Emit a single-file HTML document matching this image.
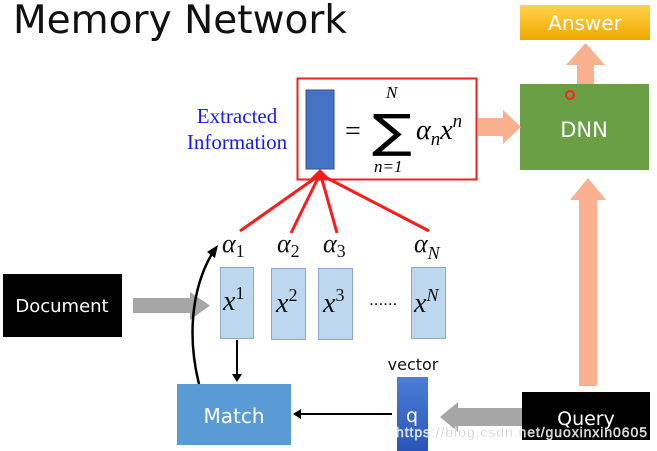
<!DOCTYPE html>
<html><head><meta charset="utf-8"><style>
html,body{margin:0;padding:0;background:#fff;}
svg{display:block;}
</style></head><body>
<svg width="657" height="451" viewBox="0 0 657 451" xmlns="http://www.w3.org/2000/svg">
<defs>
<linearGradient id="ans" x1="0" y1="0" x2="0" y2="1"><stop offset="0" stop-color="#ffd24a"/><stop offset="1" stop-color="#f0a800"/></linearGradient>
<linearGradient id="q" x1="0" y1="0" x2="0" y2="1"><stop offset="0" stop-color="#4a7fd6"/><stop offset="1" stop-color="#2a55b8"/></linearGradient>
</defs>
<text x="13" y="33" font-family="DejaVu Sans, Liberation Sans, sans-serif" font-size="39" fill="#111" textLength="334">Memory Network</text>

<!-- Answer -->
<rect x="520" y="5" width="130" height="35" fill="url(#ans)"/>
<text x="585" y="30" text-anchor="middle" font-family="DejaVu Sans, Liberation Sans, sans-serif" font-size="20" fill="#fff">Answer</text>
<polygon points="577,84 594,84 594,65 605,65 585.5,43 566,65 577,65" fill="#f8b08e"/>
<!-- DNN -->
<rect x="520" y="84" width="129" height="86" fill="#6a9f45"/>
<text x="584" y="137" text-anchor="middle" font-family="DejaVu Sans, Liberation Sans, sans-serif" font-size="21" fill="#fff">DNN</text>
<circle cx="570" cy="95" r="4" fill="none" stroke="#ff2020" stroke-width="2"/>
<polygon points="478,118 503,118 503,110 521,127 503,144 503,136 478,136" fill="#f8b08e"/>
<polygon points="579,386 597,386 597,200 606,200 588,178 570,200 579,200" fill="#f8b08e"/>

<!-- red box -->
<rect x="297.5" y="78.5" width="179" height="101" fill="none" stroke="#ee2222" stroke-width="2"/>
<rect x="306" y="90" width="28" height="79" fill="#4472c4" stroke="#2f528f" stroke-width="1"/>
<text x="345" y="140" font-family="Liberation Serif, serif" font-size="28">=</text>
<text x="372" y="147" font-family="DejaVu Sans, Liberation Sans, sans-serif" font-size="46" textLength="40" lengthAdjust="spacingAndGlyphs">∑</text>
<text x="386" y="98" font-family="Liberation Serif, serif" font-style="italic" font-size="17">N</text>
<text x="374" y="172" font-family="Liberation Serif, serif" font-style="italic" font-size="17">n=1</text>
<text x="416" y="139" font-family="Liberation Serif, serif" font-style="italic" font-size="28">α<tspan font-size="19" dy="6">n</tspan><tspan dy="-6">x</tspan><tspan font-size="19" dy="-12">n</tspan></text>
<text x="237" y="123" text-anchor="middle" font-family="Liberation Serif, serif" font-size="21" fill="#1a1aee">Extracted</text>
<text x="237" y="149" text-anchor="middle" font-family="Liberation Serif, serif" font-size="21" fill="#1a1aee">Information</text>

<g stroke="#ff1a1a" stroke-width="3">
<line x1="240" y1="231" x2="318" y2="176"/>
<line x1="291" y1="233" x2="319" y2="176"/>
<line x1="337" y1="233" x2="321" y2="176"/>
<line x1="429" y1="231" x2="323" y2="176"/>
</g>
<polygon points="309,180 320,169 331,180" fill="#ff1a1a"/>

<g font-family="Liberation Serif, serif" font-style="italic" font-size="26" fill="#111">
<text x="222" y="252">α<tspan font-size="18" dy="5" font-style="normal">1</tspan></text>
<text x="277" y="252">α<tspan font-size="18" dy="5" font-style="normal">2</tspan></text>
<text x="323" y="252">α<tspan font-size="18" dy="5" font-style="normal">3</tspan></text>
<text x="414" y="252">α<tspan font-size="18" dy="7">N</tspan></text>
</g>

<rect x="3" y="274" width="119" height="63" fill="#000"/>
<text x="62" y="312" text-anchor="middle" font-family="DejaVu Sans, Liberation Sans, sans-serif" font-size="18" fill="#fff">Document</text>
<polygon points="133,298 190,298 190,292 210,305.5 190,320 190,313 133,313" fill="#a6a6a6"/>

<g fill="#bdd7ee" stroke="#8eaacb" stroke-width="1">
<rect x="220.5" y="267.5" width="33" height="71"/>
<rect x="271.5" y="268.5" width="34" height="71"/>
<rect x="318.5" y="268.5" width="34" height="71"/>
<rect x="411.5" y="267.5" width="34" height="71"/>
</g>
<g font-family="Liberation Serif, serif" font-style="italic" font-size="28" fill="#111">
<text x="223" y="310">x<tspan font-size="18" dy="-11" font-style="normal">1</tspan></text>
<text x="276" y="312">x<tspan font-size="18" dy="-11" font-style="normal">2</tspan></text>
<text x="323" y="312">x<tspan font-size="18" dy="-11" font-style="normal">3</tspan></text>
<text x="414" y="312">x<tspan font-size="18" dy="-11">N</tspan></text>
</g>
<text x="369" y="305" font-family="Liberation Sans, sans-serif" font-size="17" fill="#111">......</text>

<rect x="177" y="384" width="114" height="61" fill="#5b9bd5"/>
<text x="234" y="423" text-anchor="middle" font-family="DejaVu Sans, Liberation Sans, sans-serif" font-size="20" fill="#fff">Match</text>
<line x1="237" y1="340" x2="237" y2="376" stroke="#000" stroke-width="2"/>
<polygon points="232,374 242,374 237,382" fill="#000"/>
<path d="M199,384 C188,340 190,290 213,252" fill="none" stroke="#000" stroke-width="2.5"/>
<polygon points="218,245 215,258 207,252" fill="#000"/>

<text x="413" y="370" text-anchor="middle" font-family="DejaVu Sans, Liberation Sans, sans-serif" font-size="16" fill="#111">vector</text>
<rect x="397" y="377" width="31" height="74" fill="url(#q)"/>
<text x="412" y="422" text-anchor="middle" font-family="DejaVu Sans, Liberation Sans, sans-serif" font-size="19" fill="#fff">q</text>
<line x1="392" y1="414" x2="300" y2="414" stroke="#000" stroke-width="2"/>
<polygon points="293,414 301,409 301,419" fill="#000"/>
<polygon points="522,408 458,408 458,402 440,417 458,432 458,426 522,426" fill="#a6a6a6"/>
<rect x="522" y="392" width="128" height="48" fill="#000"/>
<text x="586" y="425" text-anchor="middle" font-family="DejaVu Sans, Liberation Sans, sans-serif" font-size="19" fill="#fff">Query</text>
<text x="396" y="437" font-family="Liberation Sans, sans-serif" font-size="14" fill="#c8c8c8" stroke="#fff" stroke-width="0.4" textLength="251">https://blog.csdn.net/guoxinxin0605</text>
</svg>
</body></html>
